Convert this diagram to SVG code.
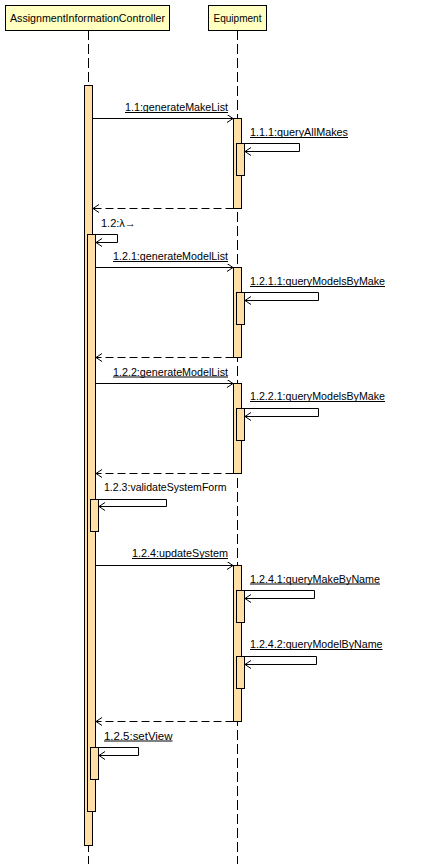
<svg xmlns="http://www.w3.org/2000/svg" width="438" height="864" viewBox="0 0 438 864">
<style>
  text { font-family: "Liberation Sans", Arial, sans-serif; font-size: 11px; fill: #000; }
  .ul { stroke: #000; stroke-width: 1; }
  .head { fill: #FFFFC0; stroke: #000; stroke-width: 1; }
  .life { stroke: #000; stroke-width: 1; stroke-dasharray: 10,4; fill: none; }
  .act { fill: #FFDFA6; stroke: #000; stroke-width: 1; }
  .msg { stroke: #000; stroke-width: 1; fill: none; marker-end: url(#open); }
  .ret { stroke: #000; stroke-width: 1; fill: none; stroke-dasharray: 8,4; marker-end: url(#open); }
</style>
<defs>
  <marker id="open" markerUnits="userSpaceOnUse" markerWidth="10" markerHeight="10" refX="6" refY="4" orient="auto" viewBox="0 0 10 10">
    <path d="M0,0 L6,4 L0,8" fill="none" stroke="#000" stroke-width="1"/>
  </marker>
</defs>
<rect width="438" height="864" fill="#fff"/>

<g id="lifelines">
  <g id="controller">
    <line class="life" x1="88.5" y1="30" x2="88.5" y2="864"/>
    <rect class="head" x="5.5" y="5.5" width="164" height="25"/>
    <text x="87.5" y="22" text-anchor="middle" textLength="155" lengthAdjust="spacingAndGlyphs">AssignmentInformationController</text>
  </g>
  <g id="equipment">
    <line class="life" x1="237.5" y1="30" x2="237.5" y2="864"/>
    <rect class="head" x="208.5" y="5.5" width="58" height="25"/>
    <text x="237.5" y="22" text-anchor="middle" textLength="48" lengthAdjust="spacingAndGlyphs">Equipment</text>
  </g>
</g>

<g id="activations">
  <rect class="act" x="84.5" y="85.5" width="8" height="760"/>
  <rect class="act" x="87.5" y="234.5" width="8" height="577"/>
  <rect class="act" x="90.5" y="499.5" width="8" height="32"/>
  <rect class="act" x="90.5" y="747.5" width="8" height="32"/>
  <rect class="act" x="233.5" y="118.5" width="8" height="90"/>
  <rect class="act" x="236.5" y="143.5" width="8" height="32"/>
  <rect class="act" x="233.5" y="267.5" width="8" height="90"/>
  <rect class="act" x="236.5" y="292.5" width="8" height="32"/>
  <rect class="act" x="233.5" y="383.5" width="8" height="90"/>
  <rect class="act" x="236.5" y="408.5" width="8" height="32"/>
  <rect class="act" x="233.5" y="565.5" width="8" height="156"/>
  <rect class="act" x="236.5" y="590.5" width="8" height="32"/>
  <rect class="act" x="236.5" y="656.5" width="8" height="32"/>
</g>

<g id="connectors">
  <g id="m1_1">
    <line class="msg" x1="92.5" y1="118.5" x2="233" y2="118.5"/>
    <text x="228" y="111" text-anchor="end" textLength="103" lengthAdjust="spacingAndGlyphs">1.1:generateMakeList</text>
    <line class="ul" x1="125" y1="112.5" x2="228" y2="112.5"/>
  </g>
  <g id="m1_1_1">
    <polyline class="msg" points="244.5,143.5 299.5,143.5 299.5,151.5 245,151.5"/>
    <text x="250" y="136" textLength="98" lengthAdjust="spacingAndGlyphs">1.1.1:queryAllMakes</text>
    <line class="ul" x1="250" y1="137.5" x2="348" y2="137.5"/>
  </g>
  <line class="ret" x1="233.5" y1="208.5" x2="93" y2="208.5"/>
  <g id="m1_2">
    <polyline class="msg" points="92.5,234.5 117.5,234.5 117.5,242.5 96,242.5"/>
    <text x="101" y="227">1.2:λ→</text>
  </g>
  <g id="m1_2_1">
    <line class="msg" x1="95.5" y1="267.5" x2="233" y2="267.5"/>
    <text x="228" y="260" text-anchor="end" textLength="115" lengthAdjust="spacingAndGlyphs">1.2.1:generateModelList</text>
    <line class="ul" x1="113" y1="261.5" x2="228" y2="261.5"/>
  </g>
  <g id="m1_2_1_1">
    <polyline class="msg" points="244.5,292.5 318.5,292.5 318.5,300.5 245,300.5"/>
    <text x="250" y="285" textLength="135" lengthAdjust="spacingAndGlyphs">1.2.1.1:queryModelsByMake</text>
    <line class="ul" x1="250" y1="286.5" x2="385" y2="286.5"/>
  </g>
  <line class="ret" x1="233.5" y1="357.5" x2="96" y2="357.5"/>
  <g id="m1_2_2">
    <line class="msg" x1="95.5" y1="383.5" x2="233" y2="383.5"/>
    <text x="228" y="375.5" text-anchor="end" textLength="115" lengthAdjust="spacingAndGlyphs">1.2.2:generateModelList</text>
    <line class="ul" x1="113" y1="377" x2="228" y2="377"/>
  </g>
  <g id="m1_2_2_1">
    <polyline class="msg" points="244.5,408.5 318.5,408.5 318.5,416.5 245,416.5"/>
    <text x="250" y="400" textLength="135" lengthAdjust="spacingAndGlyphs">1.2.2.1:queryModelsByMake</text>
    <line class="ul" x1="250" y1="401.5" x2="385" y2="401.5"/>
  </g>
  <line class="ret" x1="233.5" y1="473.5" x2="96" y2="473.5"/>
  <g id="m1_2_3">
    <polyline class="msg" points="95.5,499.5 166.5,499.5 166.5,506.5 99,506.5"/>
    <text x="104" y="491" textLength="122.5" lengthAdjust="spacingAndGlyphs">1.2.3:validateSystemForm</text>
  </g>
  <g id="m1_2_4">
    <line class="msg" x1="95.5" y1="565.5" x2="233" y2="565.5"/>
    <text x="228" y="557" text-anchor="end" textLength="96" lengthAdjust="spacingAndGlyphs">1.2.4:updateSystem</text>
    <line class="ul" x1="132" y1="558.5" x2="228" y2="558.5"/>
  </g>
  <g id="m1_2_4_1">
    <polyline class="msg" points="244.5,590.5 314.5,590.5 314.5,598.5 245,598.5"/>
    <text x="250" y="582.5" textLength="130" lengthAdjust="spacingAndGlyphs">1.2.4.1:queryMakeByName</text>
    <line class="ul" x1="250" y1="584" x2="380" y2="584"/>
  </g>
  <g id="m1_2_4_2">
    <polyline class="msg" points="244.5,656.5 316.5,656.5 316.5,664.5 245,664.5"/>
    <text x="250" y="648" textLength="132.5" lengthAdjust="spacingAndGlyphs">1.2.4.2:queryModelByName</text>
    <line class="ul" x1="250" y1="649.5" x2="382.5" y2="649.5"/>
  </g>
  <line class="ret" x1="233.5" y1="721.5" x2="96" y2="721.5"/>
  <g id="m1_2_5">
    <polyline class="msg" points="95.5,747.5 138.5,747.5 138.5,755.5 99,755.5"/>
    <text x="104" y="739.5" textLength="68.5" lengthAdjust="spacingAndGlyphs">1.2.5:setView</text>
    <line class="ul" x1="104" y1="741" x2="172.5" y2="741"/>
  </g>
</g>
</svg>
